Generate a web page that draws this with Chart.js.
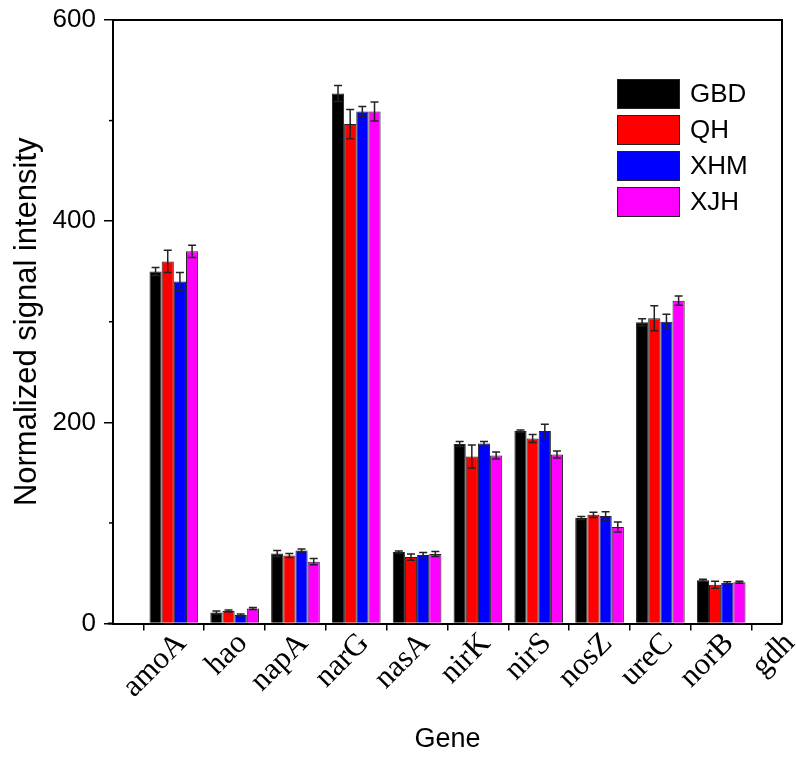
<!DOCTYPE html>
<html>
<head>
<meta charset="utf-8">
<script src="https://cdn.jsdelivr.net/npm/chart.js@4.4.0/dist/chart.umd.min.js"></script>
<style>
  body { margin: 0; background: #fff; }
  #chart { display: block; }
</style>
</head>
<body>
<canvas id="chart" width="796" height="760"></canvas>
<script>
const genes = ['amoA', 'hao', 'napA', 'narG', 'nasA', 'nirK', 'nirS', 'nosZ', 'ureC', 'norB', 'gdh'];
const sites = ['GBD', 'QH', 'XHM', 'XJH'];
const siteColors = ['#000000', '#ff0000', '#0000ff', '#ff00ff'];

const gbdValues = [350, 11, 69.5, 527, 71, 178.5, 191.5, 105, 299.5, 43, null];
const gbdErrors = [4, 1.5, 3, 8, 1, 2.5, 1, 1.5, 3.5, 1, null];
const qhValues = [360, 12.5, 67.5, 496.5, 66, 166, 184, 108, 303.5, 38.5, null];
const qhErrors = [11, 1, 2, 14.5, 3, 11.5, 4, 2.5, 12.5, 3.5, null];
const xhmValues = [340, 8.5, 72.5, 509, 68, 179, 191.5, 107, 300, 40.5, null];
const xhmErrors = [9, 1, 1.5, 5, 2.5, 2, 6.5, 4, 7.5, 1, null];
const xjhValues = [370, 15, 61.5, 509, 69, 167, 168, 96, 321, 41, null];
const xjhErrors = [6, 1, 3, 9.5, 2.5, 3.5, 3.5, 5, 4.5, 1, null];

const yTicks = [0, 200, 400, 600];
const yMinorTicks = [100, 300, 500];

const allValues = [gbdValues, qhValues, xhmValues, xjhValues];
const allErrors = [gbdErrors, qhErrors, xhmErrors, xjhErrors];

// empty slot at the start so the first gene sits one step from the y axis
const labels = [''].concat(genes);

const datasets = sites.map((name, i) => ({
  label: name,
  data: [null].concat(allValues[i]),
  errors: [null].concat(allErrors[i]),
  backgroundColor: siteColors[i],
  borderColor: '#222',
  borderWidth: 1,
  categoryPercentage: 0.8,
  barPercentage: 1.0,
}));

const errorBars = {
  id: 'errorBars',
  afterDatasetsDraw(chart) {
    const ctx = chart.ctx;
    const y = chart.scales.y;
    ctx.save();
    ctx.strokeStyle = '#222';
    ctx.lineWidth = 1.5;
    chart.data.datasets.forEach((ds, i) => {
      const meta = chart.getDatasetMeta(i);
      meta.data.forEach((bar, j) => {
        const v = ds.data[j];
        const e = ds.errors[j];
        if (v == null || e == null) return;
        const top = y.getPixelForValue(v + e);
        const bot = y.getPixelForValue(v - e);
        const half = 4;
        ctx.beginPath();
        ctx.moveTo(bar.x, top);
        ctx.lineTo(bar.x, bot);
        ctx.moveTo(bar.x - half, top);
        ctx.lineTo(bar.x + half, top);
        ctx.moveTo(bar.x - half, bot);
        ctx.lineTo(bar.x + half, bot);
        ctx.stroke();
      });
    });
    ctx.restore();
  }
};

const frameAndLegend = {
  id: 'frameAndLegend',
  afterDraw(chart) {
    const ctx = chart.ctx;
    const a = chart.chartArea;
    const y = chart.scales.y;
    ctx.save();
    ctx.strokeStyle = '#000';
    ctx.lineWidth = 2;
    ctx.beginPath();
    ctx.moveTo(a.left, a.top);
    ctx.lineTo(a.right, a.top);
    ctx.lineTo(a.right, a.bottom);
    ctx.moveTo(a.left - 5, a.bottom);
    ctx.lineTo(a.left, a.bottom);
    ctx.stroke();

    // minor ticks on the y axis
    ctx.lineWidth = 1.5;
    yMinorTicks.forEach(t => {
      const py = y.getPixelForValue(t);
      ctx.beginPath();
      ctx.moveTo(a.left - 4, py);
      ctx.lineTo(a.left, py);
      ctx.stroke();
    });

    // legend inside the plot
    ctx.font = '26px "Liberation Sans", Arial, sans-serif';
    ctx.textBaseline = 'middle';
    ctx.textAlign = 'left';
    sites.forEach((name, i) => {
      const bx = 617, by = 79 + i * 36;
      ctx.fillStyle = siteColors[i];
      ctx.fillRect(bx, by, 63, 30);
      ctx.lineWidth = 1;
      ctx.strokeStyle = '#222';
      ctx.strokeRect(bx + 0.5, by + 0.5, 62, 29);
      ctx.fillStyle = '#000';
      ctx.fillText(name, 690, by + 16);
    });
    ctx.restore();
  }
};

new Chart(document.getElementById('chart'), {
  type: 'bar',
  data: { labels: labels, datasets: datasets },
  options: {
    responsive: false,
    animation: false,
    devicePixelRatio: 1,
    layout: { padding: { left: 0, right: 14, top: 20, bottom: 0 } },
    plugins: {
      legend: { display: false },
      tooltip: { enabled: false },
    },
    scales: {
      x: {
        offset: false,
        grid: { drawOnChartArea: false, color: '#000', lineWidth: 1.5, tickLength: 7 },
        border: { color: '#000', width: 2 },
        ticks: {
          color: '#000',
          autoSkip: false,
          minRotation: 45,
          maxRotation: 45,
          padding: -5,
          labelOffset: 8,
          font: { family: '"Liberation Serif", "Times New Roman", serif', size: 31 },
        },
        title: {
          display: true,
          text: 'Gene',
          color: '#000',
          padding: { top: 0, bottom: 4 },
          font: { family: '"Liberation Sans", Arial, sans-serif', size: 27 },
        },
        afterFit(scale) {
          scale.height = 136.5;
          scale.paddingLeft = 0;
          scale.paddingRight = 0;
        },
      },
      y: {
        min: 0,
        max: 600,
        afterBuildTicks(scale) { scale.ticks = yTicks.map(v => ({ value: v })); },
        grid: { drawOnChartArea: false, color: '#000', lineWidth: 1.5, tickLength: 9 },
        border: { color: '#000', width: 2 },
        ticks: {
          color: '#000',
          padding: 8,
          font: { family: '"Liberation Sans", Arial, sans-serif', size: 26 },
        },
        title: {
          display: true,
          text: 'Normalized signal intensity',
          color: '#000',
          padding: { top: 9, bottom: 0 },
          font: { family: '"Liberation Sans", Arial, sans-serif', size: 31 },
        },
        afterFit(scale) {
          scale.width = 113;
          scale.paddingTop = 0;
          scale.paddingBottom = 0;
        },
      },
    },
  },
  plugins: [errorBars, frameAndLegend],
});
</script>
</body>
</html>
